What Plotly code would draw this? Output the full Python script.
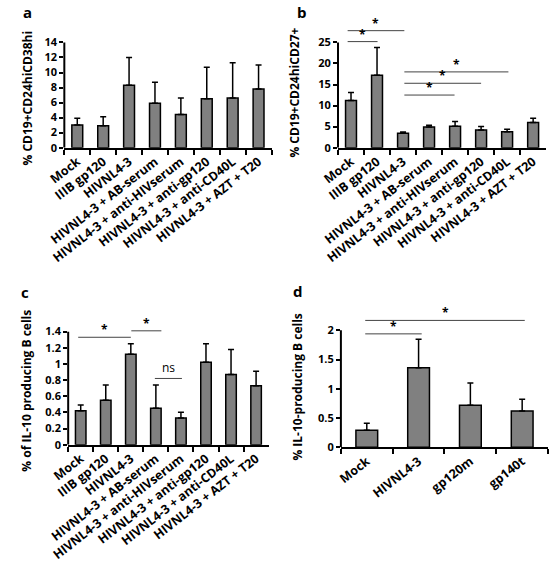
import plotly.graph_objects as go

W, H = 550, 565

# ---------------- data ----------------
cats_abc = ["Mock", "IIIB gp120", "HIVNL4-3", "HIVNL4-3 + AB-serum",
            "HIVNL4-3 + anti-HIVserum", "HIVNL4-3 + anti-gp120",
            "HIVNL4-3 + anti-CD40L", "HIVNL4-3 + AZT + T20"]
cats_d = ["Mock", "HIVNL4-3", "gp120m", "gp140t"]

a_vals = [3.0, 2.9, 8.3, 5.9, 4.4, 6.5, 6.6, 7.8]
a_err = [0.9, 1.2, 3.7, 2.8, 2.2, 4.2, 4.7, 3.2]
b_vals = [11.2, 17.2, 3.4, 4.9, 5.1, 4.2, 3.8, 6.0]
b_err = [1.9, 6.6, 0.3, 0.4, 1.1, 0.8, 0.6, 1.0]
c_vals = [0.42, 0.55, 1.12, 0.45, 0.33, 1.02, 0.87, 0.73]
c_err = [0.07, 0.19, 0.13, 0.29, 0.07, 0.23, 0.31, 0.18]
d_vals = [0.29, 1.36, 0.72, 0.62]
d_err = [0.12, 0.49, 0.38, 0.20]

a_ticks = [0, 2, 4, 6, 8, 10, 12, 14]
b_ticks = [0, 5, 10, 15, 20, 25]
c_ticks = [0, 0.2, 0.4, 0.6, 0.8, 1.0, 1.2, 1.4]
c_ticktext = ["0", "0.2", "0.4", "0.6", "0.8", "1", "1.2", "1.4"]
d_ticks = [0, 0.5, 1.0, 1.5, 2.0]
d_ticktext = ["0", "0.5", "1", "1.5", "2"]

titles = ["% CD19+CD24hiCD38hi", "% CD19+CD24hiCD27+",
          "% of IL-10 producing B cells", "% IL-10-producing B cells"]
letters = ["a", "b", "c", "d"]

# significance brackets: level, start (category index), end, label
b_sig_level = [27.8, 25.2, 18.0, 15.3, 12.5]
b_sig_start = [-0.13, -0.13, 2.05, 2.05, 2.05]
b_sig_end = [2.05, 1.02, 6.05, 5.0, 3.98]
b_sig_text = ["*", "*", "*", "*", "*"]
c_sig_level = [1.33, 1.41, 0.82]
c_sig_start = [-0.1, 2.02, 2.96]
c_sig_end = [2.0, 3.22, 4.04]
c_sig_text = ["*", "*", "ns"]
d_sig_level = [1.94, 2.17]
d_sig_start = [-0.03, -0.03]
d_sig_end = [1.06, 3.05]
d_sig_text = ["*", "*"]

# ---------------- layout geometry (pixels) ----------------
# x-left, x-right, y of zero, y of top tick, top tick value, range max
geom = {
    "a": (46, 261, 145, 37.3, 14, 14.3),
    "b": (330, 546, 145, 37.3, 25, 29.5),
    "c": (50, 258, 449, 333.3, 1.4, 1.55),
    "d": (333, 548, 451.7, 332, 2.0, 2.3),
}
title_pos = {"a": (8, 94), "b": (285, 89), "c": (7, 394), "d": (287, 390)}
letter_pos = {"a": (8, 6), "b": (293, 6), "c": (5, 293), "d": (289, 292)}

FONT = "Open Sans"
BAR = "#808080"

fig = go.Figure()
panels = [
    ("a", cats_abc, a_vals, a_err, a_ticks, None, None),
    ("b", cats_abc, b_vals, b_err, b_ticks, None, (b_sig_level, b_sig_start, b_sig_end, b_sig_text)),
    ("c", cats_abc, c_vals, c_err, c_ticks, c_ticktext, (c_sig_level, c_sig_start, c_sig_end, c_sig_text)),
    ("d", cats_d, d_vals, d_err, d_ticks, d_ticktext, (d_sig_level, d_sig_start, d_sig_end, d_sig_text)),
]

annotations = []
shapes = []
for i, (key, cats, vals, err, ticks, ticktext, sig) in enumerate(panels):
    n = i + 1
    xa = "x" if n == 1 else f"x{n}"
    ya = "y" if n == 1 else f"y{n}"
    xl, xr, y0, ytop, tmax, rmax = geom[key]
    scale = (y0 - ytop) / tmax
    top_px = y0 - rmax * scale
    xdom = [xl / W, xr / W]
    ydom = [1 - y0 / H, 1 - top_px / H]

    fig.add_trace(go.Bar(
        x=cats, y=vals, xaxis=xa, yaxis=ya, width=0.42,
        marker=dict(color=BAR, line=dict(color="black", width=1.5)),
        error_y=dict(type="data", array=err, arrayminus=[0] * len(err),
                     symmetric=False, color="black", thickness=1.5, width=3),
        showlegend=False, hoverinfo="skip",
    ))

    xkey = "xaxis" if n == 1 else f"xaxis{n}"
    ykey = "yaxis" if n == 1 else f"yaxis{n}"
    fig.update_layout(**{
        xkey: dict(domain=xdom, anchor=ya, type="category", categoryarray=cats,
                   range=[-0.5, len(cats) - 0.5], tickson="boundaries",
                   ticks="outside", ticklen=5, tickwidth=1.5, tickcolor="black",
                   showline=True, linewidth=2, linecolor="black",
                   showgrid=False, zeroline=False, tickangle=-38,
                   tickfont=dict(family=FONT, size=12.5, color="black", weight="bold")),
        ykey: dict(domain=ydom, anchor=xa, range=[0, rmax], tickmode="array",
                   tickvals=ticks, ticktext=ticktext if ticktext else [str(t) for t in ticks],
                   ticks="outside", ticklen=4, tickwidth=1.5, tickcolor="black",
                   showline=False, showgrid=False, zeroline=False,
                   tickfont=dict(family=FONT, size=11, color="black", weight="bold")),
    })
    # y axis line up to the top tick only
    shapes.append(dict(type="line", xref=f"{xa} domain", yref=ya, x0=0, x1=0,
                       y0=0, y1=tmax, line=dict(color="black", width=2)))

    if sig:
        for lev, s, e, t in zip(*sig):
            shapes.append(dict(type="line", xref=xa, yref=ya, x0=s, x1=e,
                               y0=lev, y1=lev, line=dict(color="#444444", width=1)))
            annotations.append(dict(xref=xa, yref=ya, x=(s + e) / 2, y=lev,
                                    text=t, showarrow=False, yanchor="bottom",
                                    yshift=-3 if t == "*" else 0,
                                    font=dict(family=FONT, size=12, color="black",
                                              weight="bold" if t == "*" else "normal")))

    tx, ty = title_pos[key]
    annotations.append(dict(xref="paper", yref="paper", x=tx / W, y=1 - ty / H,
                            text=titles[i], textangle=-90, showarrow=False,
                            xanchor="center", yanchor="middle",
                            font=dict(family=FONT, size=12, color="black", weight="bold")))
    lx, ly = letter_pos[key]
    annotations.append(dict(xref="paper", yref="paper", x=lx / W, y=1 - ly / H,
                            text=letters[i], showarrow=False,
                            xanchor="center", yanchor="middle",
                            font=dict(family=FONT, size=15, color="black", weight="bold")))

fig.update_layout(width=W, height=H, margin=dict(l=0, r=0, t=0, b=0),
                  paper_bgcolor="white", plot_bgcolor="white",
                  annotations=annotations, shapes=shapes, bargap=0.58)

fig.write_html("out.html", config={"displayModeBar": False},
               post_script="document.body.style.margin='0';document.body.style.overflow='hidden';")
